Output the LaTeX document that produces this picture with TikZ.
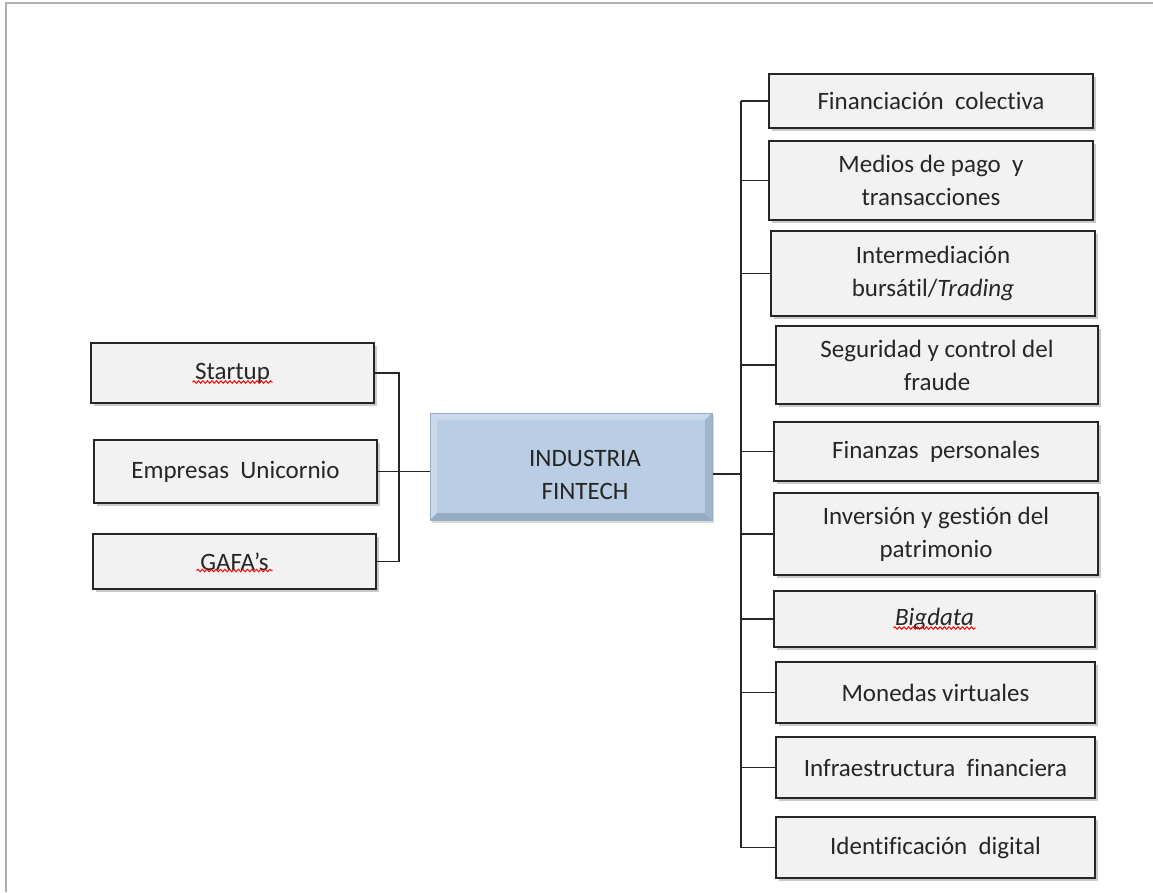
\documentclass[tikz,border=0pt]{standalone}
\usepackage{fontspec}
\setmainfont[Ligatures=NoCommon]{Carlito}
\usetikzlibrary{shadows,decorations.pathmorphing}
\definecolor{framegray}{RGB}{177,174,171}
\definecolor{boxfill}{RGB}{242,242,242}
\definecolor{boxline}{RGB}{38,38,38}
\definecolor{finfill}{RGB}{185,205,228}
\definecolor{finlight}{RGB}{202,218,236}
\definecolor{findark}{RGB}{150,171,196}
\begin{document}
\begin{tikzpicture}[x=1pt, y=-1pt,
  box/.style={rectangle, draw=boxline, fill=boxfill, line width=1.5pt,
    minimum width=#1, inner sep=0pt, align=center, text=black!85,
    font=\fontsize{25}{33}\selectfont,
    drop shadow={shadow xshift=3pt, shadow yshift=-3pt, opacity=0.35, fill=black!60}},
  box/.default=324pt,
  link/.style={line width=1.5pt, draw=boxline},
  typo/.style={red, line width=1pt, decorate,
    decoration={snake, amplitude=1.2pt, segment length=4.5pt}}
]
\useasboundingbox (0,0) rectangle (1153,892);
\draw[framegray, line width=2.5pt] (6,892) -- (6,3) -- (1153,3);

% centre
\node[rectangle, fill=finfill, draw=findark, line width=1pt,
  minimum width=282pt, minimum height=107pt,
  drop shadow={shadow xshift=2pt, shadow yshift=-3pt, opacity=0.3, fill=black!50},
  path picture={
    \fill[finlight] (path picture bounding box.north west) -- (path picture bounding box.north east)
      -- ++(-7pt,-7pt) -- ([shift={(7pt,-7pt)}]path picture bounding box.north west) -- cycle;
    \fill[finlight] (path picture bounding box.north west) -- (path picture bounding box.south west)
      -- ++(7pt,7pt) -- ([shift={(7pt,-7pt)}]path picture bounding box.north west) -- cycle;
    \fill[findark] (path picture bounding box.south west) -- (path picture bounding box.south east)
      -- ++(-7pt,7pt) -- ([shift={(7pt,7pt)}]path picture bounding box.south west) -- cycle;
    \fill[findark!70!finfill] (path picture bounding box.south east) -- (path picture bounding box.north east)
      -- ++(-7pt,-7pt) -- ([shift={(-7pt,7pt)}]path picture bounding box.south east) -- cycle;
  },
  label={[align=center, text=black!85, font=\fontsize{25}{33}\selectfont,
    xshift=14pt, yshift=-8pt]center:INDUSTRIA\\FINTECH}] (fin) at (571,466.5) {};

% left side
\node[box=283pt, minimum height=60pt] (startup) at (232.5,373) {Startup};
\node[box=283pt, minimum height=63pt] (unicorn) at (235.5,471.5) {Empresas~ Unicornio};
\node[box=283pt, minimum height=55pt] (gafa) at (234.5,561.5) {GAFA’s};
\draw[typo] ([shift={(-40pt,-9pt)}]startup.center) -- ([shift={(40pt,-9pt)}]startup.center);
\draw[typo] ([shift={(-38pt,-9pt)}]gafa.center) -- ([shift={(38pt,-9pt)}]gafa.center);

% right side
\node[box, minimum height=54pt] (crowd) at (931,101) {Financiación~ colectiva};
\node[box, minimum height=79pt] (pay) at (931,180.5) {Medios de pago~ y\\transacciones};
\node[box, minimum height=85pt] (trade) at (933,273.5) {Intermediación\\bursátil/\textit{Trading}};
\node[box=322pt, minimum height=78pt] (fraud) at (937,365) {Seguridad y control del\\fraude};
\node[box, minimum height=59pt] (pfm) at (936,451.5) {Finanzas~ personales};
\node[box, minimum height=82pt] (wealth) at (936,534) {Inversión y gestión del\\patrimonio};
\node[box=321pt, minimum height=56pt] (bigdata) at (934.5,619) {\textit{Bigdata}};
\node[box=319pt, minimum height=61pt] (coins) at (935.5,692.5) {Monedas virtuales};
\node[box=319pt, minimum height=61pt] (infra) at (935.5,767.5) {Infraestructura~ financiera};
\node[box=319pt, minimum height=61pt] (ident) at (935.5,847.5) {Identificación~ digital};
\draw[typo] ([shift={(-41pt,-9pt)}]bigdata.center) -- ([shift={(41pt,-9pt)}]bigdata.center);

% connectors
\coordinate (lbus) at (399,476);
\coordinate (rbus) at (741,474);
\draw[link] (startup.east) -- (lbus |- startup.east) -- (lbus |- gafa.east) -- (gafa.east);
\draw[link] (unicorn.east) -- (unicorn.east -| fin.west);
\draw[link] (rbus -| fin.east) -- (rbus);
\draw[link] (rbus |- crowd.west) -- (rbus |- ident.west);
\foreach \n in {crowd,pay,trade,fraud,pfm,wealth,bigdata,coins,infra,ident}
  \draw[link] (rbus |- \n.west) -- (\n.west);
\end{tikzpicture}
\end{document}
